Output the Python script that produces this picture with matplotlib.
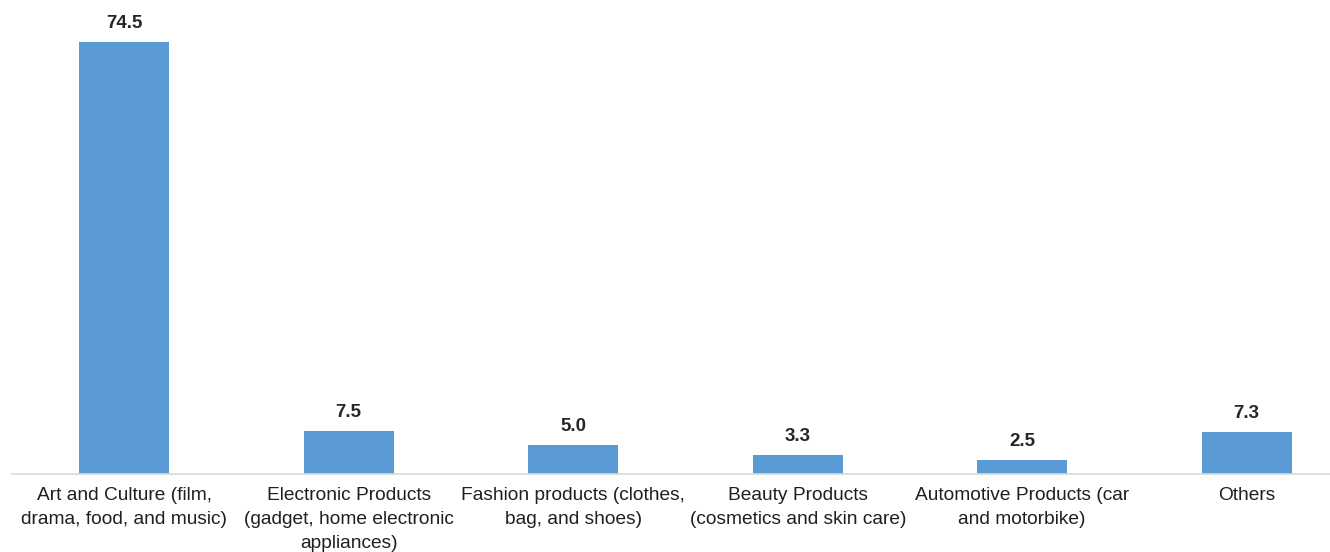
import matplotlib.pyplot as plt

categories = [
    "Art and Culture (film,\ndrama, food, and music)",
    "Electronic Products\n(gadget, home electronic\nappliances)",
    "Fashion products (clothes,\nbag, and shoes)",
    "Beauty Products\n(cosmetics and skin care)",
    "Automotive Products (car\nand motorbike)",
    "Others",
]
values = [74.5, 7.5, 5.0, 3.3, 2.5, 7.3]

plt.rcParams['font.family'] = ['Liberation Sans', 'DejaVu Sans']

fig = plt.figure(figsize=(13.3, 5.52), dpi=100)
ax = fig.add_axes([12 / 1330, 78 / 552, 1347 / 1330, 464 / 552])

x = range(len(values))
bars = ax.bar(x, values, width=0.4, color='#5B9BD5', zorder=2)

for b, v in zip(bars, values):
    ax.annotate(f"{v:.1f}", (b.get_x() + b.get_width() / 2, v),
                xytext=(0, 7), textcoords='offset points',
                ha='center', va='bottom', fontsize=13.5, fontweight='bold',
                color='#262626')

ax.set_xlim(-0.5, len(values) - 0.5)
ax.set_ylim(0, 80)
ax.set_xticks(list(x))
ax.set_xticklabels(categories, fontsize=13.75, color='#1f1f1f', linespacing=1.55)
ax.tick_params(axis='x', length=0, pad=9)
ax.set_yticks([])

for side in ['top', 'right', 'left']:
    ax.spines[side].set_visible(False)
ax.spines['bottom'].set_color('#D9D9D9')
ax.spines['bottom'].set_linewidth(1.2)

fig.savefig('out.png', dpi=100)
